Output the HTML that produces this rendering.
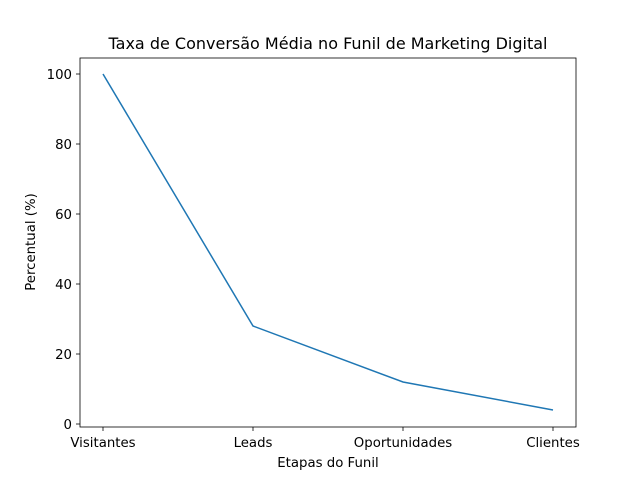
<!DOCTYPE html>
<html><head><meta charset="utf-8"><style>body{margin:0;background:#fff}svg{display:block}</style></head>
<body>
<svg width="640" height="480" xmlns="http://www.w3.org/2000/svg" font-family="'DejaVu Sans', sans-serif">
<rect width="640" height="480" fill="#fff"/>
<rect x="80" y="58" width="496" height="369" fill="none" stroke="#000" stroke-width="0.8"/>
<g stroke="#000" stroke-width="0.8">
<line x1="103" y1="427" x2="103" y2="431"/><line x1="253" y1="427" x2="253" y2="431"/>
<line x1="403" y1="427" x2="403" y2="431"/><line x1="553" y1="427" x2="553" y2="431"/>
<line x1="76" y1="424" x2="80" y2="424"/><line x1="76" y1="354" x2="80" y2="354"/>
<line x1="76" y1="284" x2="80" y2="284"/><line x1="76" y1="214" x2="80" y2="214"/>
<line x1="76" y1="144" x2="80" y2="144"/><line x1="76" y1="74" x2="80" y2="74"/>
</g>
<g font-size="13.3" fill="#000" text-anchor="middle">
<text x="103" y="447">Visitantes</text><text x="253" y="447">Leads</text>
<text x="403" y="447">Oportunidades</text><text x="553" y="447">Clientes</text>
</g>
<g font-size="13.3" fill="#000" text-anchor="end">
<text x="72" y="429">0</text><text x="72" y="359">20</text><text x="72" y="289">40</text>
<text x="72" y="219">60</text><text x="72" y="149">80</text><text x="72" y="79">100</text>
</g>
<text x="328" y="467" font-size="13.3" text-anchor="middle">Etapas do Funil</text>
<text transform="translate(35,242) rotate(-90)" font-size="13.3" text-anchor="middle">Percentual (%)</text>
<text x="328" y="49" font-size="16" text-anchor="middle">Taxa de Conversão Média no Funil de Marketing Digital</text>
<polyline points="103,74 253,326 403,382 553,410" fill="none" stroke="#1f77b4" stroke-width="1.5"/>
</svg>
</body></html>
